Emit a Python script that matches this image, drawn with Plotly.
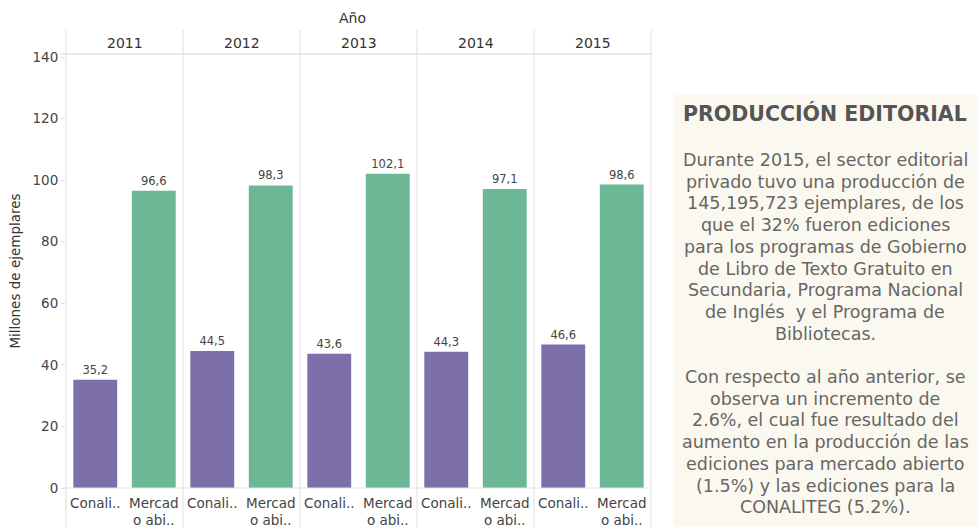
import plotly.graph_objects as go
from plotly.subplots import make_subplots

years = ["2011", "2012", "2013", "2014", "2015"]
categories = ["Conali..", "Mercad<br>o abi.."]
conaliteg = [35.2, 44.5, 43.6, 44.3, 46.6]
mercado = [96.6, 98.3, 102.1, 97.1, 98.6]
y_ticks = [0, 20, 40, 60, 80, 100, 120, 140]

panel_title = "PRODUCCIÓN EDITORIAL"
panel_lines = [
    "Durante 2015, el sector editorial",
    "privado tuvo una producción de",
    "145,195,723 ejemplares, de los",
    "que el 32% fueron ediciones",
    "para los programas de Gobierno",
    "de Libro de Texto Gratuito en",
    "Secundaria, Programa Nacional",
    "de Inglés  y el Programa de",
    "Bibliotecas.",
    "",
    "Con respecto al año anterior, se",
    "observa un incremento de",
    "2.6%, el cual fue resultado del",
    "aumento en la producción de las",
    "ediciones para mercado abierto",
    "(1.5%) y las ediciones para la",
    "CONALITEG (5.2%).",
]

PURPLE = "#7d70aa"
GREEN = "#6bb796"
GRID = "#e4e4e4"
FONT = "DejaVu Sans"

W, H = 977, 527
# plot area in screen pixels
L, R, T, B = 66, 651, 54, 488


def px(x):
    return (x - L) / (R - L)


def py(y):
    return (B - y) / (B - T)


def fmt(v):
    return f"{v:.1f}".replace(".", ",")


fig = make_subplots(rows=1, cols=5, shared_yaxes=True, horizontal_spacing=0)

for i, yr in enumerate(years):
    vals = [conaliteg[i], mercado[i]]
    fig.add_trace(
        go.Bar(
            x=categories,
            y=vals,
            marker=dict(color=[PURPLE, GREEN], line=dict(width=0)),
            text=[fmt(v) for v in vals],
            textposition="outside",
            textfont=dict(family=FONT, size=11.5, color="#444"),
            cliponaxis=False,
            showlegend=False,
        ),
        row=1, col=i + 1,
    )
    fig.update_xaxes(
        type="category",
        tickfont=dict(family=FONT, size=13.5, color="#444"),
        showgrid=False, zeroline=False, showline=False, ticks="",
        ticklabelstandoff=5,
        row=1, col=i + 1,
    )

fig.update_yaxes(
    range=[0, 141],
    tickvals=y_ticks,
    showgrid=False,
    zeroline=False,
    showline=False,
    ticks="outside",
    ticklen=4,
    tickcolor="#dddddd",
    tickfont=dict(family=FONT, size=13.5, color="#444"),
    row=1, col=1,
)
fig.update_yaxes(
    title=dict(text="Millones de ejemplares",
               font=dict(family=FONT, size=13.5, color="#333"),
               standoff=8),
    row=1, col=1,
)

shapes = []
for k in range(6):
    xp = k / 5
    shapes.append(dict(type="line", xref="paper", yref="paper",
                       x0=xp, x1=xp, y0=py(530), y1=py(30),
                       line=dict(color=GRID, width=1.2)))
shapes.append(dict(type="line", xref="paper", yref="paper",
                   x0=px(60), x1=1, y0=py(54), y1=py(54),
                   line=dict(color=GRID, width=1.5)))
shapes.append(dict(type="line", xref="paper", yref="paper",
                   x0=px(62), x1=1, y0=0, y1=0,
                   line=dict(color=GRID, width=1.2)))
shapes.append(dict(type="rect", xref="paper", yref="paper",
                   x0=px(673), x1=px(980), y0=py(95), y1=py(530),
                   fillcolor="#fbf9ef", line=dict(width=0), layer="below"))

annotations = []
annotations.append(dict(text="Año", xref="paper", yref="paper",
                        x=px(352), y=py(18), xanchor="center", yanchor="middle",
                        showarrow=False,
                        font=dict(family=FONT, size=14, color="#333")))
for k, yr in enumerate(years):
    annotations.append(dict(text=yr, xref="paper", yref="paper",
                            x=(k + 0.5) / 5, y=py(43), xanchor="center", yanchor="middle",
                            showarrow=False,
                            font=dict(family=FONT, size=14, color="#333")))

cx = px(825)
annotations.append(dict(text="<b>" + panel_title + "</b>", xref="paper", yref="paper",
                        x=cx, y=py(114), xanchor="center", yanchor="middle",
                        showarrow=False,
                        font=dict(family=FONT, size=20.5, color="#555")))
for j, line in enumerate(panel_lines):
    if not line:
        continue
    annotations.append(dict(text=line, xref="paper", yref="paper",
                            x=cx, y=py(160 + j * 21.7), xanchor="center", yanchor="middle",
                            showarrow=False,
                            font=dict(family=FONT, size=17.5, color="#666")))

fig.update_layout(
    width=W, height=H,
    margin=dict(l=L, r=W - R, t=T, b=H - B, autoexpand=False),
    paper_bgcolor="white",
    plot_bgcolor="white",
    bargap=0.25,
    shapes=shapes,
    annotations=annotations,
)

fig.write_html(
    "out.html",
    config={"displayModeBar": False},
    post_script="document.body.style.margin='0';document.body.style.overflow='hidden';",
)
